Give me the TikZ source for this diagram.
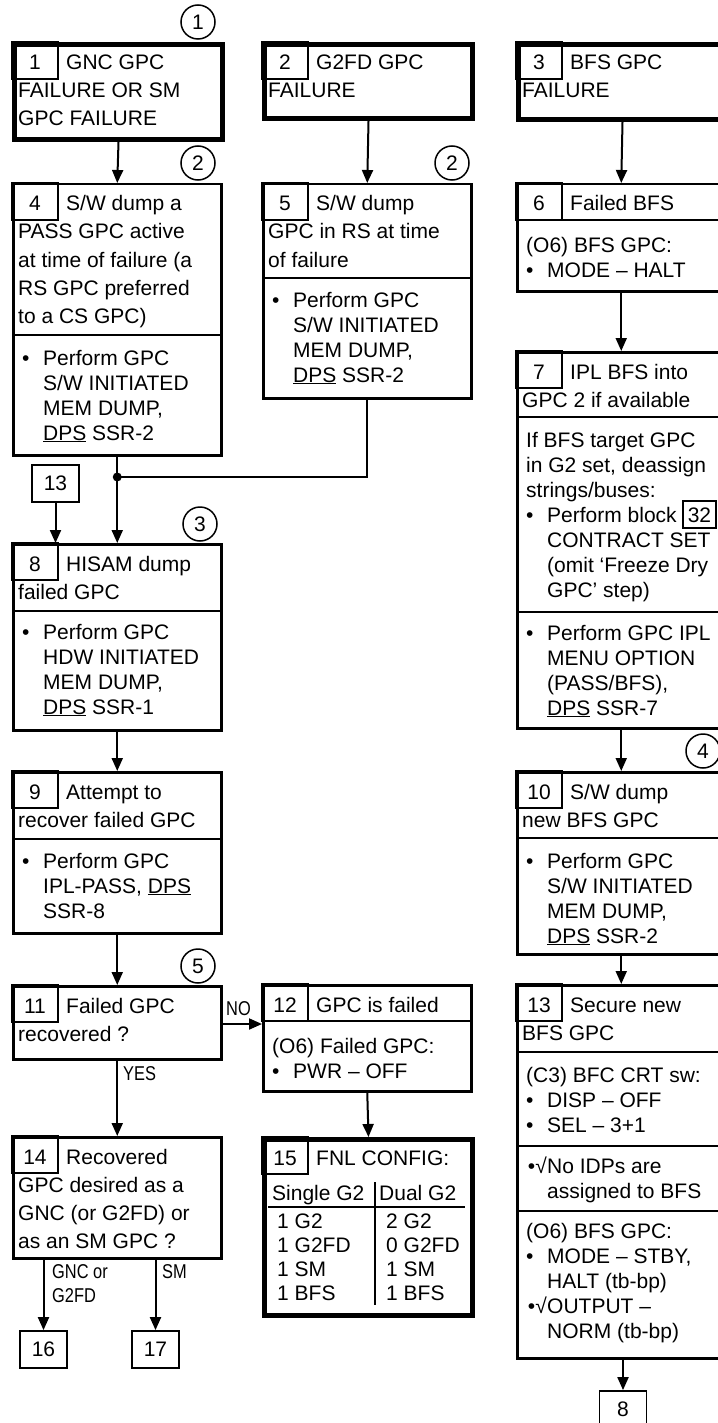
\documentclass[tikz,border=0pt]{standalone}
\usepackage{fontspec}
\setmainfont{Liberation Sans}
\newfontfamily\narrowfont[FakeStretch=0.82]{Liberation Sans}
\usetikzlibrary{arrows.meta, calc}

\begin{document}
\begin{tikzpicture}[x=1pt,y=-1pt,
  box/.style={draw, line width=2.5pt, anchor=north west, minimum width=208pt, inner sep=0pt},
  entry/.style={line width=5pt},
  cell/.style={line width=1.3pt},
  rule/.style={line width=2.5pt},
  hdr/.style={anchor=base west, inner sep=0pt, font=\fontsize{21}{28}\selectfont},
  body/.style={anchor=base west, inner sep=0pt, font=\fontsize{21}{25}\selectfont},
  num/.style={anchor=base, inner sep=0pt, font=\fontsize{21}{25}\selectfont},
  refbox/.style={draw, line width=1.8pt, minimum width=47pt, minimum height=37pt, inner sep=0pt, font=\fontsize{21}{25}\selectfont},
  circ/.style={draw, circle, line width=1.5pt, minimum size=34pt, inner sep=0pt, font=\fontsize{21}{25}\selectfont},
  lbl/.style={anchor=base west, inner sep=0pt, font=\narrowfont\fontsize{20}{24}\selectfont},
  arr/.style={line width=2pt, -{Triangle[length=13pt,width=11pt]}}]
\useasboundingbox (0,0) rectangle (717,1423);
\newcommand{\lines}[5]{%
  \foreach \ln [count=\i from 0] in {#5} {\node[body] (#1-\i) at (#2,#3+#4*\i) {\ln};}
}
\newcommand{\flowbox}[7][]{%
  \node[box,#1,minimum height={#5-#4}] (#2) at (#3,#4) {};
  \draw[cell] (#2.north west) rectangle ++(46,37);
  \node[num] (#2n) at (#3+23,#4+28) {#6};
  \foreach \ln [count=\i from 0] in {#7} {
    \pgfmathsetmacro{\hx}{\i==0 ? #3+54 : #3+6}
    \node[hdr] (#2h\i) at (\hx,#4+28+28*\i) {\ln};
  }
}
\newcommand{\splitline}[2]{\draw[rule] (#1.west |- 0,#2) -- (#1.east |- 0,#2);}
\newcommand{\btext}[4]{\lines{#1}{#2+10}{#3}{25}{#4}}
\newcommand{\bitem}[4]{%
  \node[body] (#1d) at (#2+10,#3) {•};
  \lines{#1}{#2+31}{#3}{25}{#4}
}
% left column
\flowbox[entry]{b1}{12}{42}{137}{1}{GNC GPC,FAILURE OR SM,GPC FAILURE}
\flowbox{b4}{12}{183}{454}{4}{S/W dump a,PASS GPC active,{at time of failure (a},RS GPC preferred,{to a CS GPC)}}
\splitline{b4}{335}
\bitem{b4a}{12}{365}{Perform GPC,S/W INITIATED,{MEM DUMP,},\underline{DPS} SSR-2}
\flowbox{b8}{12}{543}{729}{8}{HISAM dump,failed GPC}
\splitline{b8}{611}
\bitem{b8a}{12}{639}{Perform GPC,HDW INITIATED,{MEM DUMP,},\underline{DPS} SSR-1}
\flowbox{b9}{12}{771}{932}{9}{Attempt to,recover failed GPC}
\splitline{b9}{839}
\bitem{b9a}{12}{868}{Perform GPC,{IPL-PASS, \underline{DPS}},SSR-8}
\flowbox{b11}{12}{985}{1058}{11}{Failed GPC,recovered ?}
\flowbox{b14}{12}{1136}{1257}{14}{Recovered,GPC desired as a,{GNC (or G2FD) or},as an SM GPC ?}
% middle column
\flowbox[entry]{b2}{262}{42}{116}{2}{G2FD GPC,FAILURE}
\flowbox{b5}{262}{183}{397}{5}{S/W dump,GPC in RS at time,of failure}
\splitline{b5}{278}
\bitem{b5a}{262}{307}{Perform GPC,S/W INITIATED,{MEM DUMP,},\underline{DPS} SSR-2}
\flowbox{b12}{262}{984}{1090}{12}{GPC is failed}
\splitline{b12}{1021}
\btext{b12a}{262}{1053}{{(O6) Failed GPC:}}
\bitem{b12b}{262}{1078}{PWR – OFF}
\flowbox[entry]{b15}{262}{1137}{1313}{15}{FNL CONFIG:}
\node[body] (t15a) at (272,1200) {Single G2};
\node[body] (t15b) at (379,1200) {Dual G2};
\draw[line width=1.5pt] (268,1207) -- (465,1207);
\draw[line width=1.5pt] (375,1182) -- (375,1305);
\lines{t15c}{277}{1228}{24}{1 G2,1 G2FD,1 SM,1 BFS}
\lines{t15d}{386}{1228}{24}{2 G2,0 G2FD,1 SM,1 BFS}
% right column
\flowbox[entry]{b3}{516}{42}{117}{3}{BFS GPC,FAILURE}
\flowbox{b6}{516}{183}{290}{6}{Failed BFS}
\splitline{b6}{220}
\btext{b6a}{516}{252}{{(O6) BFS GPC:}}
\bitem{b6b}{516}{277}{MODE – HALT}
\flowbox{b7}{516}{351}{727}{7}{IPL BFS into,GPC 2 if available}
\splitline{b7}{417}
\btext{b7a}{516}{447}{If BFS target GPC,{in G2 set, deassign},strings/buses:}
\bitem{b7b}{516}{522}{Perform block,CONTRACT SET,{(omit ‘Freeze Dry},{GPC’ step)}}
\node[body, draw, line width=1.5pt, inner xsep=5pt, inner ysep=6pt, text height=15pt, text depth=0pt] (r32) at (682,522) {32};
\splitline{b7}{612}
\bitem{b7c}{516}{640}{Perform GPC IPL,MENU OPTION,{(PASS/BFS),},\underline{DPS} SSR-7}
\flowbox{b10}{516}{771}{953}{10}{S/W dump,new BFS GPC}
\splitline{b10}{838}
\bitem{b10a}{516}{868}{Perform GPC,S/W INITIATED,{MEM DUMP,},\underline{DPS} SSR-2}
\flowbox{b13}{516}{984}{1357}{13}{Secure new,BFS GPC}
\splitline{b13}{1052}
\btext{b13a}{516}{1082}{{(C3) BFC CRT sw:}}
\bitem{b13b}{516}{1107}{DISP – OFF}
\bitem{b13c}{516}{1132}{SEL – 3+1}
\splitline{b13}{1146}
\node[body, anchor=base east] (b13d) at (547,1173) {•√};
\lines{b13e}{547}{1173}{25}{No IDPs are,assigned to BFS}
\splitline{b13}{1211}
\btext{b13f}{516}{1238}{{(O6) BFS GPC:}}
\bitem{b13g}{516}{1263}{{MODE – STBY,},{HALT (tb-bp)}}
\node[body, anchor=base east] (b13h) at (547,1313) {•√};
\lines{b13i}{547}{1313}{25}{OUTPUT –,{NORM (tb-bp)}}
% markers and references
\node[circ] (c1) at (198,22) {1};
\node[circ] (c2a) at (198,163) {2};
\node[circ] (c2b) at (452,163) {2};
\node[circ] (c3) at (200,524) {3};
\node[circ] (c4) at (703,751) {4};
\node[circ] (c5) at (198,966) {5};
\node[refbox] (r13) at (55.5,483.5) {13};
\node[refbox] (r16) at (43.5,1349.5) {16};
\node[refbox] (r17) at (155.5,1349.5) {17};
\node[refbox] (r8) at (623,1409.5) {8};
% connectors
\draw[arr] (b1.south) -- (b4.north);
\draw[arr] (b2.south) -- (b5.north);
\draw[arr] (b3.south) -- (b6.north);
\coordinate (jn) at (b4.south |- 0,477);
\draw[line width=2pt] (b4.south) -- (jn);
\draw[line width=2pt] (b5.south) |- (jn);
\fill (jn) circle (4.5pt);
\draw[arr] (jn) -- (b8.north);
\draw[arr] (r13.south) -- (r13.south |- b8.north);
\draw[arr] (b8.south) -- (b9.north);
\draw[arr] (b9.south) -- (b11.north);
\draw[arr] (b11.east |- 0,1024) -- (b12.west |- 0,1024);
\node[lbl] (lno) at (226,1015) {NO};
\draw[arr] (b11.south) -- (b14.north);
\node[lbl] (lyes) at (123,1080) {YES};
\draw[arr] (b14.south -| r16.north) -- (r16.north);
\draw[arr] (b14.south -| r17.north) -- (r17.north);
\node[lbl] (lgnc) at (52,1278) {GNC or};
\node[lbl] (lg2fd) at (52,1302) {G2FD};
\node[lbl] (lsm) at (162,1278) {SM};
\draw[arr] (b12.south) -- (b15.north);
\draw[arr] (b6.south) -- (b7.north);
\draw[arr] (b7.south) -- (b10.north);
\draw[arr] (b10.south) -- (b13.north);
\draw[arr] (b13.south -| r8.north) -- (r8.north);
\end{tikzpicture}
\end{document}
